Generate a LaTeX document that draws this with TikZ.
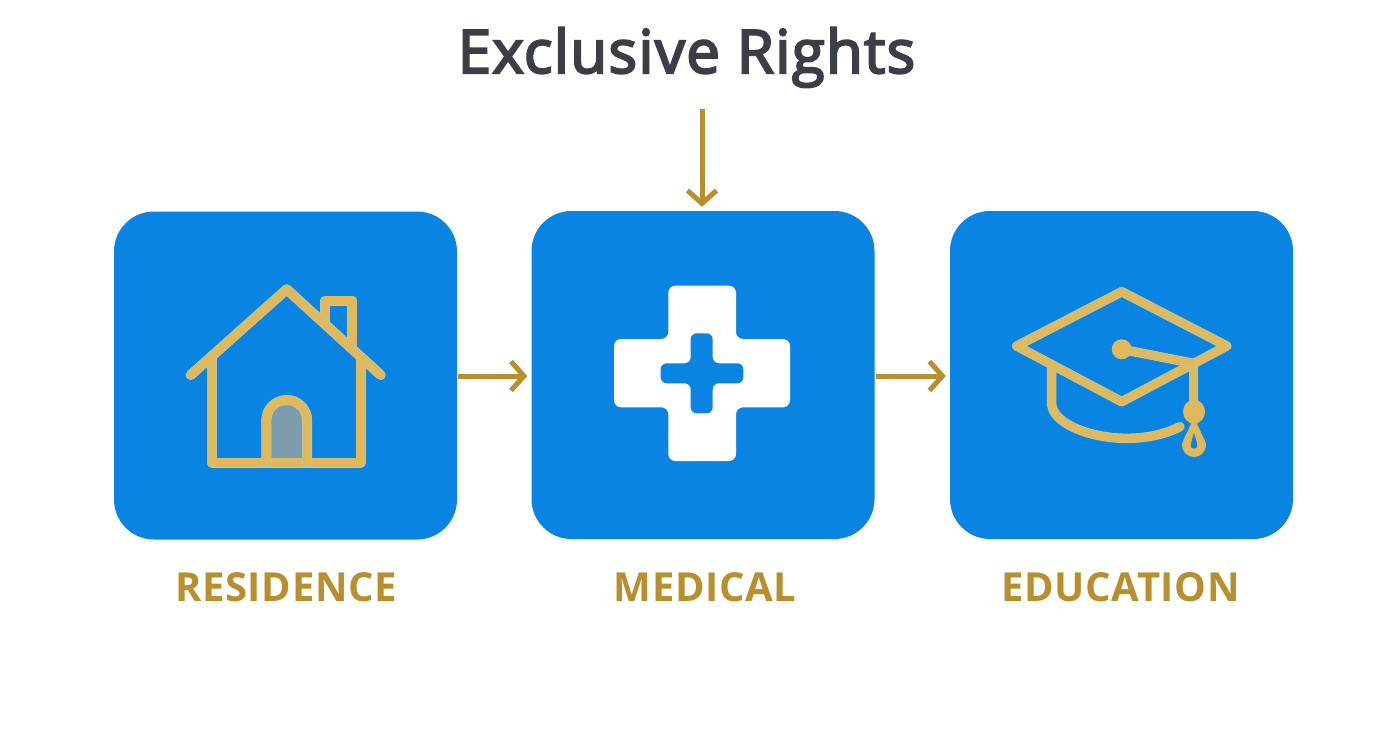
\documentclass[tikz,border=0pt]{standalone}
\usepackage{fontspec}
\setmainfont{Open Sans}
\newfontfamily\titlefont[FakeBold=3.5,LetterSpace=2.2]{Open Sans}
\newfontfamily\labelfont[LetterSpace=1.7]{Open Sans}
\usetikzlibrary{arrows.meta}
\definecolor{boxblue}{HTML}{0984E3}
\definecolor{arrowgold}{HTML}{B88F2C}
\definecolor{icongold}{HTML}{E0B95C}
\definecolor{iconedge}{HTML}{B9C9A8}
\definecolor{titlegrey}{HTML}{3C3E46}
\definecolor{doorgrey}{HTML}{7F9BAE}
\tikzset{
  tile/.style={draw=none,fill=boxblue,rounded corners=40pt,minimum width=343pt,minimum height=328pt,inner sep=0pt,anchor=center},
  lbl/.style={text=arrowgold,font=\labelfont\bfseries\fontsize{40pt}{40pt}\selectfont,inner sep=0pt,anchor=base},
  link/.style={draw=arrowgold,line width=5pt,-{Straight Barb[length=13pt,width=29pt,line width=5pt]}},
  iconline/.style={draw=icongold,line width=8pt,line join=round,line cap=round,preaction={draw=iconedge,line width=9.5pt,line join=round,line cap=round}},
  houseline/.style={iconline,line width=8.5pt,preaction={draw=iconedge,line width=10pt,line join=round,line cap=round}},
}
\begin{document}
\begin{tikzpicture}[x=1pt,y=-1pt]
\useasboundingbox (0,0) rectangle (1392,752);
\fill[white] (0,0) rectangle (1392,752);
\node[tile] (res) at (285.5,375.5) {};
\node[tile] (med) at (703,375) {};
\node[tile] (edu) at (1121.5,375) {};
\node[text=titlegrey,font=\titlefont\fontsize{60pt}{60pt}\selectfont,inner sep=0pt,anchor=base] (title) at (686.5,73) {Exclusive Rights};
\node[lbl] (lres) at (286,601.5) {RESIDENCE};
\node[lbl] (lmed) at (705,601.5) {MEDICAL};
\node[lbl] (ledu) at (1120.5,601.5) {EDUCATION};
\coordinate (top) at (702,109);
\draw[link,shorten <=1pt,shorten >=4pt] (res.east |- 0,376) -- (med.west |- 0,376);
\draw[link,shorten <=1pt,shorten >=4pt] (med.east |- 0,376) -- (edu.west |- 0,376);
\draw[link,shorten >=4pt] (top) -- (top |- med.north);
% house
\fill[doorgrey] (266.3,462.7) -- (266.3,420.4) arc[start angle=180,end angle=360,x radius=20.4,y radius=20.4] -- (307,462.7) -- cycle;
\draw[houseline] (325,322) -- (325,300.7) -- (352.3,300.7) -- (352.3,347);
\draw[houseline] (211.7,357) -- (211.7,462.7) -- (360.7,462.7) -- (360.7,357);
\draw[houseline] (266.3,462.7) -- (266.3,420.4) arc[start angle=180,end angle=360,x radius=20.4,y radius=20.4] -- (307,462.7);
\draw[houseline] (190.7,375) -- (286.7,289.3) -- (380.7,375);
% cross
\fill[white,rounded corners=7pt] (668.3,285.7) -- (736,285.7) -- (736,339) -- (790,339) -- (790,407.3) -- (736,407.3) -- (736,461) -- (668.3,461) -- (668.3,407.3) -- (614,407.3) -- (614,339) -- (668.3,339) -- cycle;
\fill[boxblue,rounded corners=6pt] (690.7,333.3) -- (712.7,333.3) -- (712.7,363.3) -- (743.3,363.3) -- (743.3,383.3) -- (712.7,383.3) -- (712.7,413.3) -- (690.7,413.3) -- (690.7,383.3) -- (660.7,383.3) -- (660.7,363.3) -- (690.7,363.3) -- cycle;
% cap
\draw[iconline] (1051.7,368) -- (1051.7,405) .. controls (1055,432) and (1130,452) .. (1180,426.7);
\draw[iconline] (1193.3,363.3) -- (1193.3,410);
\draw[iconline] (1121.7,291.7) -- (1226.7,346) -- (1121.7,401.7) -- (1016.7,346) -- cycle;
\draw[iconline] (1121.7,349.3) -- (1193.3,363.3);
\fill[icongold] (1121.7,349.3) circle[radius=10];
\fill[icongold] (1194,411.7) ellipse[x radius=11,y radius=12];
\path[fill=icongold] (1194,414) .. controls (1198,430) and (1206,440) .. (1206,445) arc[start angle=0,end angle=180,x radius=12,y radius=12] .. controls (1182,440) and (1190,430) .. (1194,414) -- cycle;
\path[fill=boxblue] (1194,433) .. controls (1196,440) and (1198,445) .. (1197,447) .. controls (1196,449) and (1192,449) .. (1191,447) .. controls (1190,445) and (1192,440) .. (1194,433) -- cycle;
\end{tikzpicture}
\end{document}
